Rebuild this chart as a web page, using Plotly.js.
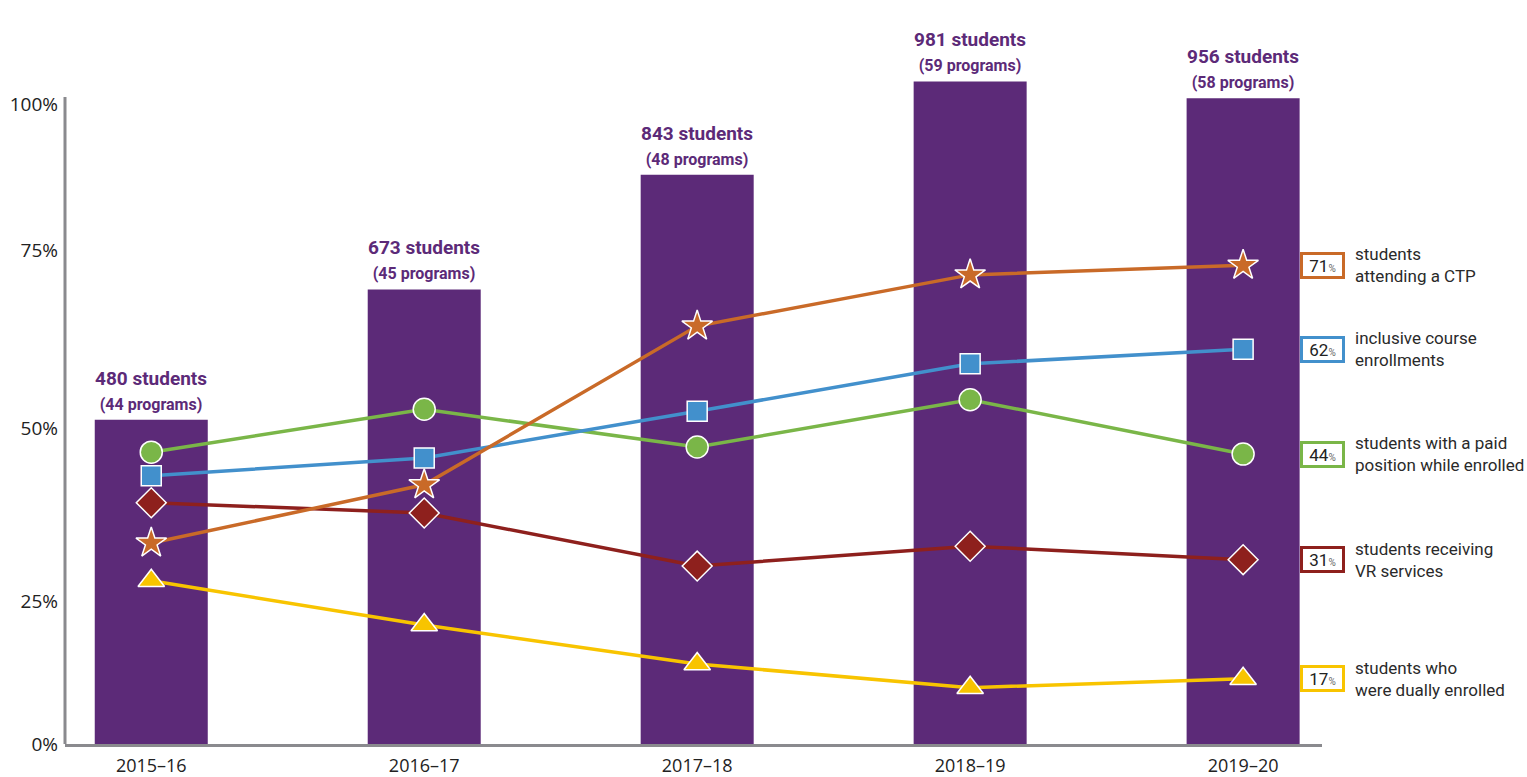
<!DOCTYPE html>
<html>
<head>
<meta charset="utf-8">
<script src="https://cdn.plot.ly/plotly-3.0.1.min.js"></script>
<style>
  html, body { margin: 0; padding: 0; background: #ffffff; }
  #chart { width: 1527px; height: 777px; }
</style>
</head>
<body>
<div id="chart"></div>
<script>
// ---- data ----
const years = ['2015–16', '2016–17', '2017–18', '2018–19', '2019–20'];
const students = [480, 673, 843, 981, 956];
const programs = [44, 45, 48, 59, 58];

const pctCTP       = [31.4, 40.5, 65.3, 73.3, 74.8];
const pctInclusive = [41.9, 44.7, 52.0, 59.4, 61.7];
const pctPaid      = [45.6, 52.3, 46.4, 53.8, 45.3];
const pctVR        = [37.7, 36.1, 27.8, 30.9, 28.8];
const pctDual      = [25.5, 18.6, 12.5, 8.8, 10.2];

const legendValues = ['71', '62', '44', '31', '17'];
const legendLabels = [
  'students<br>attending a CTP',
  'inclusive course<br>enrollments',
  'students with a paid<br>position while enrolled',
  'students receiving<br>VR services',
  'students who<br>were dually enrolled'
];
const yTickLabels = ['0%', '25%', '50%', '75%', '100%'];

// ---- styles ----
const purple = '#5c2a78';
const series = [
  {y: pctPaid,      color: '#7ab648', symbol: 'circle',      size: 22},
  {y: pctInclusive, color: '#4290cc', symbol: 'square',      size: 20},
  {y: pctVR,        color: '#8e201d', symbol: 'diamond',     size: 23},
  {y: pctCTP,       color: '#c96a28', symbol: 'star',        size: 23},
  {y: pctDual,      color: '#f8c400', symbol: 'triangle-up', size: 23}
];
const legendOrder = [pctCTP, pctInclusive, pctPaid, pctVR, pctDual];
const legendColors = ['#c96a28', '#4290cc', '#7ab648', '#8e201d', '#f8c400'];

const traces = [];
traces.push({
  type: 'bar', x: years, y: students, yaxis: 'y',
  width: 0.414,
  marker: {color: purple},
  hoverinfo: 'skip'
});
series.forEach(s => {
  traces.push({
    type: 'scatter', mode: 'lines+markers', x: years, y: s.y, yaxis: 'y2',
    line: {color: s.color, width: 3.5},
    marker: {symbol: s.symbol, size: s.size, color: s.color,
             line: {color: '#ffffff', width: 1.5}},
    cliponaxis: false,
    hoverinfo: 'skip'
  });
});

const annotations = [];
students.forEach((n, i) => {
  annotations.push({
    x: years[i], y: n, xref: 'x', yref: 'y',
    yanchor: 'bottom', yshift: 4, showarrow: false,
    text: '<b>' + n + ' students</b><br><b><span style="font-size:16px">(' + programs[i] + ' programs)</span></b>',
    font: {family: 'Roboto, sans-serif', size: 19, color: purple},
    align: 'center'
  });
});
legendOrder.forEach((arr, i) => {
  const yv = arr[arr.length - 1];
  annotations.push({
    x: 1.0004, xref: 'paper', y: yv, yref: 'y2',
    xanchor: 'center', yanchor: 'middle', showarrow: false,
    text: legendValues[i] + '<span style="font-size:10px;fill:#666">%</span>',
    font: {family: 'Roboto, sans-serif', size: 17, color: '#222222'},
    bgcolor: '#ffffff', bordercolor: legendColors[i], borderwidth: 3, borderpad: 1,
    width: 37, height: 19, align: 'center'
  });
  annotations.push({
    x: 1.0247, xref: 'paper', y: yv, yref: 'y2',
    xanchor: 'left', yanchor: 'middle', showarrow: false,
    text: legendLabels[i],
    font: {family: 'Roboto, sans-serif', size: 17, color: '#2a2a2a'},
    align: 'left'
  });
});

const layout = {
  width: 1527, height: 777,
  margin: {l: 65, r: 205, t: 10, b: 33},
  paper_bgcolor: '#ffffff', plot_bgcolor: '#ffffff',
  showlegend: false,
  hovermode: false,
  xaxis: {
    type: 'category', range: [-0.316, 4.289],
    showgrid: false, zeroline: false,
    showline: true, linecolor: '#8a8a8e', linewidth: 3,
    ticks: '', ticklabelstandoff: 3,
    tickfont: {family: 'Open Sans, sans-serif', size: 18, color: '#222222'}
  },
  yaxis: {
    range: [0, 1086.8], visible: false,
    showgrid: false, zeroline: false
  },
  yaxis2: {
    range: [0, 114.69], overlaying: 'y', side: 'left',
    showgrid: false, zeroline: false, showline: false,
    tickmode: 'array', tickvals: [0, 22.3, 49.4, 77.2, 100], ticktext: yTickLabels,
    ticks: '', ticklabelstandoff: 6,
    tickfont: {family: 'Open Sans, sans-serif', size: 19, color: '#222222'}
  },
  shapes: [{
    type: 'line', xref: 'paper', yref: 'y2', x0: 0, x1: 0, y0: 0, y1: 101.1,
    line: {color: '#8a8a8e', width: 3}
  }],
  annotations: annotations
};

Plotly.newPlot('chart', traces, layout, {displayModeBar: false, staticPlot: true});
</script>
</body>
</html>
